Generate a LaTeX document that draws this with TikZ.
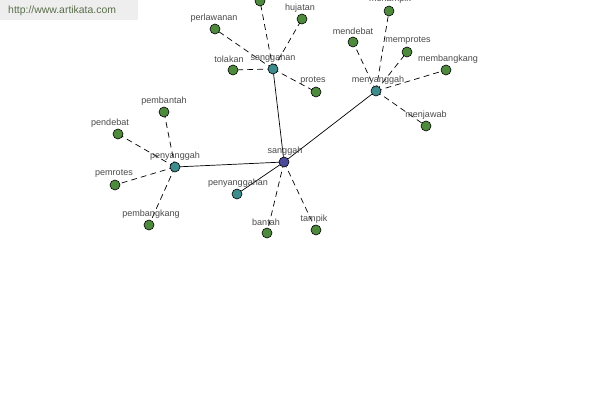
\documentclass[tikz,border=0pt]{standalone}
\usepackage{fontspec}
\setmainfont{Liberation Sans}
\definecolor{leafc}{HTML}{4E8A3E}
\definecolor{midc}{HTML}{3E8C8E}
\definecolor{rootc}{HTML}{4A4A98}
\definecolor{txtc}{HTML}{4A4A4A}
\definecolor{wmbg}{HTML}{EEEEEE}
\definecolor{wmtx}{HTML}{5A6E4A}
\begin{document}
\begin{tikzpicture}[x=0.03cm,y=-0.03cm,
  leaf/.style={circle,draw=black,line width=0.5pt,fill=leafc,minimum size=10*0.03cm,inner sep=0pt},
  mid/.style={circle,draw=black,line width=0.5pt,fill=midc,minimum size=10*0.03cm,inner sep=0pt},
  root/.style={circle,draw=black,line width=0.5pt,fill=rootc,minimum size=10*0.03cm,inner sep=0pt},
  lbl/.style={font=\fontsize{7.7}{8}\selectfont,text=txtc,inner sep=0pt},
  solidedge/.style={draw=black,line width=0.6pt},
  dashedge/.style={draw=black,line width=0.6pt,dashed,dash pattern=on 5pt off 3.5pt}]
\useasboundingbox (0,0) rectangle (600,400);
\fill[white] (0,0) rectangle (600,400);
% watermark
\node[fill=wmbg,minimum width=138*0.03cm,minimum height=20*0.03cm,anchor=north west,inner sep=0pt] (wm) at (0,0) {};
\node[anchor=west,font=\fontsize{8.9}{9}\selectfont,text=wmtx,inner sep=0pt] (wmt) at (8,11) {http://www.artikata.com};
% nodes
\coordinate (sgh) at (284,162);
\coordinate (sgn) at (273,69);
\coordinate (top) at (260,1);
\coordinate (huj) at (302,19);
\coordinate (per) at (215,29);
\coordinate (tol) at (233,70);
\coordinate (pro) at (316,92);
\coordinate (men) at (376,91);
\coordinate (mtk) at (389,11);
\coordinate (mdb) at (353,42);
\coordinate (mpr) at (407,52);
\coordinate (mbk) at (446,70);
\coordinate (mjw) at (426,126);
\coordinate (pen) at (175,167);
\coordinate (pbt) at (164,112);
\coordinate (pdb) at (118,134);
\coordinate (ppr) at (115,185);
\coordinate (pbk) at (149,225);
\coordinate (psn) at (237,194);
\coordinate (bnt) at (267,233);
\coordinate (tmp) at (316,230);
% edges
\draw[solidedge] (sgh) -- (sgn);
\draw[solidedge] (sgh) -- (men);
\draw[solidedge] (sgh) -- (pen);
\draw[solidedge] (sgh) -- (psn);
\foreach \t in {top,huj,per,tol,pro} \draw[dashedge] (sgn) -- (\t);
\foreach \t in {mtk,mdb,mpr,mbk,mjw} \draw[dashedge] (men) -- (\t);
\foreach \t in {pbt,pdb,ppr,pbk} \draw[dashedge] (pen) -- (\t);
\foreach \t in {bnt,tmp} \draw[dashedge] (sgh) -- (\t);
% circles
\node[root] (nsgh) at (sgh) {};
\node[mid] (nsgn) at (sgn) {};
\node[mid] (nmen) at (men) {};
\node[mid] (npen) at (pen) {};
\node[mid] (npsn) at (psn) {};
\node[leaf] (ntop) at (top) {};
\node[leaf] (nhuj) at (huj) {};
\node[leaf] (nper) at (per) {};
\node[leaf] (ntol) at (tol) {};
\node[leaf] (npro) at (pro) {};
\node[leaf] (nmtk) at (mtk) {};
\node[leaf] (nmdb) at (mdb) {};
\node[leaf] (nmpr) at (mpr) {};
\node[leaf] (nmbk) at (mbk) {};
\node[leaf] (nmjw) at (mjw) {};
\node[leaf] (npbt) at (pbt) {};
\node[leaf] (npdb) at (pdb) {};
\node[leaf] (nppr) at (ppr) {};
\node[leaf] (npbk) at (pbk) {};
\node[leaf] (nbnt) at (bnt) {};
\node[leaf] (ntmp) at (tmp) {};
% labels
\node[lbl] (lsgh) at (285,151) {sanggah};
\node[lbl] (lsgn) at (273,58) {sanggahan};
\node[lbl] (lhuj) at (300,8) {hujatan};
\node[lbl] (lper) at (214,18) {perlawanan};
\node[lbl] (ltol) at (229,59) {tolakan};
\node[lbl] (lpro) at (313,81) {protes};
\node[lbl] (lmen) at (378,80) {menyanggah};
\node[lbl] (lmtk) at (390,-1) {menampik};
\node[lbl] (lmdb) at (353,31) {mendebat};
\node[lbl] (lmpr) at (408,41) {memprotes};
\node[lbl] (lmbk) at (448,59) {membangkang};
\node[lbl] (lmjw) at (426,115) {menjawab};
\node[lbl] (lpen) at (175,156) {penyanggah};
\node[lbl] (lpbt) at (164,101) {pembantah};
\node[lbl] (lpdb) at (110,123) {pendebat};
\node[lbl] (lppr) at (114,174) {pemrotes};
\node[lbl] (lpbk) at (151,214) {pembangkang};
\node[lbl] (lpsn) at (238,183) {penyanggahan};
\node[lbl] (lbnt) at (266,222) {bantah};
\node[lbl] (ltmp) at (314,219) {tampik};
\end{tikzpicture}
\end{document}
